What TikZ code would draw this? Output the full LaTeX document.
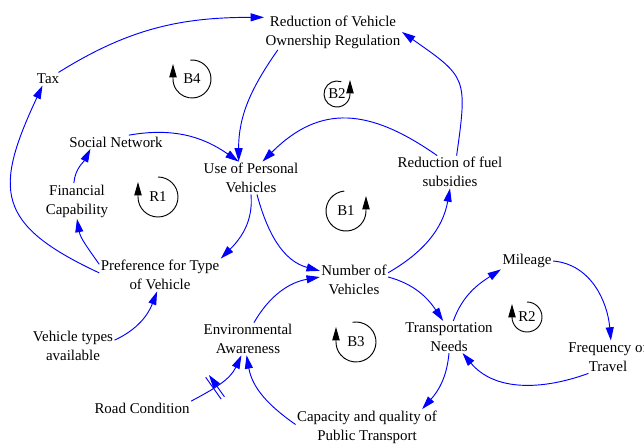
\documentclass[tikz,border=0pt]{standalone}
\usepackage{fontspec}
\setmainfont{Liberation Serif}
\usetikzlibrary{arrows.meta,decorations.markings}

\begin{document}
\begin{tikzpicture}[x=0.75pt,y=0.75pt,
    font=\fontsize{11.2}{14.2}\selectfont,
    var/.style={align=center,inner sep=1pt},
    link/.style={draw=blue,line width=0.7pt,-{Triangle[length=10pt,width=6pt]}},
    loopsign/.style={draw=black,line width=0.7pt,-{Triangle[length=10pt,width=5.5pt]}},
    delay/.style={decoration={markings,mark=at position #1 with {\draw[blue,line width=0.7pt] (-1.5pt,-10pt) -- (-1.5pt,10pt) (1.5pt,-10pt) -- (1.5pt,10pt);}},postaction=decorate}]
    \useasboundingbox (0,0) rectangle (644,-446);

    \node[var] (rvo) at (333,-32) {Reduction of Vehicle\\Ownership Regulation};
    \node[var] (tax) at (48,-79) {Tax};
    \node[var] (sn) at (116,-142) {Social Network};
    \node[var] (upv) at (251,-178) {Use of Personal\\Vehicles};
    \node[var] (rfs) at (450,-172) {Reduction of fuel\\subsidies};
    \node[var] (fc) at (77,-201) {Financial\\Capability};
    \node[var] (pref) at (160,-275) {Preference for Type\\of Vehicle};
    \node[var] (nov) at (354,-280) {Number of\\Vehicles};
    \node[var] (mil) at (527,-261) {Mileage};
    \node[var] (fot) at (608,-357) {Frequency of\\Travel};
    \node[var] (vta) at (73,-346) {Vehicle types\\available};
    \node[var] (ea) at (248,-339) {Environmental\\Awareness};
    \node[var] (tn) at (449,-337) {Transportation\\Needs};
    \node[var] (rc) at (142,-408) {Road Condition};
    \node[var] (cq) at (367,-427) {Capacity and quality of\\Public Transport};

    \node[var] (b4) at (192,-79) {B4};
    \node[var] (b2) at (337,-94) {B2};
    \node[var] (r1) at (158,-197) {R1};
    \node[var] (b1) at (346,-211) {B1};
    \node[var] (b3) at (356,-342) {B3};
    \node[var] (r2) at (527,-317) {R2};

    \draw[loopsign] ([shift={(95:19)}]b4.center) arc[start angle=95,end angle=-180,radius=19] -- ++(0,15);
    \draw[loopsign] ([shift={(70:13)}]b2.center) arc[start angle=70,end angle=360,radius=13] -- ++(0,14);
    \draw[loopsign] ([shift={(90:20)}]r1.center) arc[start angle=90,end angle=-180,radius=20] -- ++(0,15);
    \draw[loopsign] ([shift={(95:20)}]b1.center) arc[start angle=95,end angle=360,radius=20] -- ++(0,15);
    \draw[loopsign] ([shift={(100:20)}]b3.center) arc[start angle=100,end angle=-180,radius=20] -- ++(0,15);
    \draw[loopsign] ([shift={(90:15)}]r2.center) arc[start angle=90,end angle=-180,radius=15] -- ++(0,13);

    \draw[link] (tax) to[out=32,in=180] (rvo.168);
    \draw[link] (rvo.-162) to[out=-125,in=90] (upv.127);
    \draw[link] (sn.28) to[out=10,in=145] (upv.127);
    \draw[link] (rfs.128) to[out=145,in=45,looseness=1.2] (upv.55);
    \draw[link] (rfs.68) to[out=82,in=-35,looseness=1.5] (rvo.east);
    \draw[link] (upv.south) to[out=-85,in=45] (pref.north east);
    \draw[link] (upv.-70) to[out=-75,in=165] (nov.165);
    \draw[link] (pref.170) to[out=125,in=-80] (fc.south);
    \draw[link] (fc.100) to[out=85,in=-117] (sn.-165);
    \draw[link] (pref.178) to[out=155,in=-115,looseness=1.5] (tax.-130);
    \draw[link] (vta.8) to[out=25,in=-111] (pref.-100);
    \draw[link] (ea.70) to[out=60,in=190] (nov.175);
    \draw[link] (nov.12) to[out=30,in=-100] (rfs.south);
    \draw[link] (nov.5) to[out=-15,in=124] (tn.110);
    \draw[link] (tn.75) to[out=70,in=-147] (mil.south west);
    \draw[link] (mil.east) to[out=-5,in=95] (fot.80);
    \draw[link] (fot.-140) to[out=-160,in=-50] (tn.-50);
    \draw[link] (tn.south) to[out=-95,in=48] (cq.18);
    \draw[link] (cq.178) to[out=145,in=-80] (ea.-95);
    \draw[link,delay=0.4] (rc.north east) to[out=28,in=-115] (ea.-112);
\end{tikzpicture}
\end{document}
